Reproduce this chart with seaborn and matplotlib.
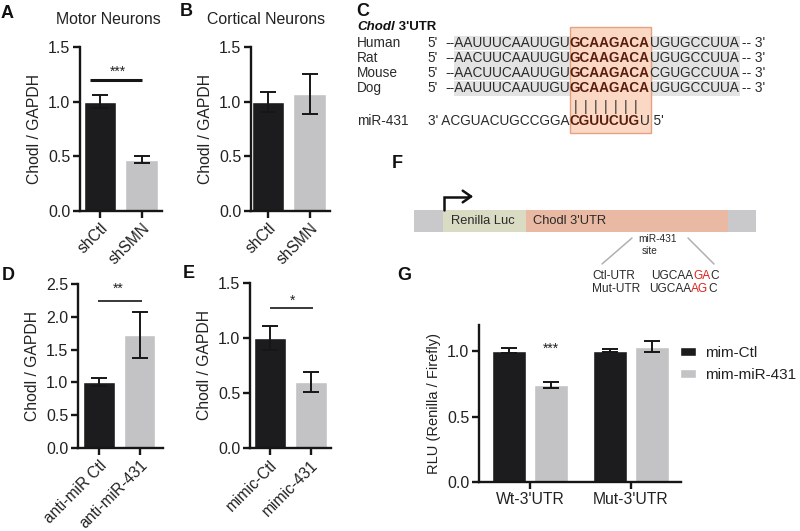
import numpy as np
import pandas as pd
import matplotlib
matplotlib.use("Agg")
import matplotlib.pyplot as plt
import seaborn as sns
from matplotlib.patches import Rectangle

sns.set_theme(style="ticks")
plt.rcParams['font.family'] = ['Liberation Sans', 'DejaVu Sans']

# ---------------- data ----------------
a_groups = ["shCtl", "shSMN"]
a_means = [1.00, 0.47]
a_sem = [0.06, 0.035]

b_groups = ["shCtl", "shSMN"]
b_means = [1.00, 1.07]
b_sem = [0.09, 0.18]

d_groups = ["anti-miR Ctl", "anti-miR-431"]
d_means = [1.00, 1.72]
d_sem = [0.06, 0.35]

e_groups = ["mimic-Ctl", "mimic-431"]
e_means = [1.00, 0.60]
e_sem = [0.11, 0.09]

g_constructs = ["Wt-3'UTR", "Wt-3'UTR", "Mut-3'UTR", "Mut-3'UTR"]
g_treatment = ["mim-Ctl", "mim-miR-431", "mim-Ctl", "mim-miR-431"]
g_means = [1.005, 0.74, 1.005, 1.035]
g_sem = [0.022, 0.025, 0.010, 0.042]

species = ["Human", "Rat", "Mouse", "Dog"]
seq_left = ["--AAUUUCAAUUGU", "--AACUUCAAUUGU", "--AACUUCAAUUGU", "--AAUUUCAAUUGU"]
seq_site = ["GCAAGACA"] * 4
seq_right = ["UGUGCCUUA -- 3'", "UGUGCCUUA -- 3'", "CGUGCCUUA -- 3'", "UGUGCCUUA -- 3'"]

BLACK = "#1c1b1d"
GRAY = "#c3c3c5"
INK = "#161616"
W, H = 800, 531

fig = plt.figure(figsize=(8, 5.31), dpi=100)
fig.patch.set_facecolor("white")


def ax_px(x0, y0, x1, y1):
    return fig.add_axes([x0 / W, 1 - y1 / H, (x1 - x0) / W, (y1 - y0) / H])


def style(ax, ylim, yticks):
    ax.set_ylim(*ylim)
    ax.set_yticks(yticks)
    ax.set_yticklabels([f"{t:.1f}" for t in yticks])
    for s in ["top", "right"]:
        ax.spines[s].set_visible(False)
    for s in ["left", "bottom"]:
        ax.spines[s].set_linewidth(1.7)
        ax.spines[s].set_color(INK)
    ax.tick_params(width=1.7, length=5, labelsize=11.5, color=INK, labelcolor="#222", pad=2)
    ax.set_facecolor("none")
    ax.set_xlabel("")


def bar_panel(ax, groups, means, sem, xlim, ylim, yticks):
    df = pd.DataFrame({"g": groups, "v": means})
    sns.barplot(data=df, x="g", y="v", hue="g", palette=[BLACK, GRAY], width=0.78,
                errorbar=None, legend=False, ax=ax, saturation=1)
    ax.errorbar(range(len(groups)), means, yerr=sem, fmt="none", ecolor=INK,
                elinewidth=1.4, capsize=6, capthick=1.4, zorder=3)
    ax.set_xlim(*xlim)
    style(ax, ylim, yticks)
    ax.set_xticks(range(len(groups)))
    ax.set_xticklabels(groups, rotation=45, ha="right", rotation_mode="anchor", fontsize=11.2)
    ax.set_ylabel("Chodl / GAPDH", fontsize=11.3, color="#222", labelpad=4)


def sig(ax, x0, x1, y, stars, sx, sy, lw=1.2):
    ax.plot([x0, x1], [y, y], color=INK, lw=lw, solid_capstyle="butt")
    ax.text(sx, sy, stars, ha="center", va="center", fontsize=10, color="#222")


# Panel A
axA = ax_px(80, 47, 162, 211)
bar_panel(axA, a_groups, a_means, a_sem, (-0.48, 1.49), (0, 1.5), [0, 0.5, 1.0, 1.5])
sig(axA, -0.24, 1.01, 1.2, "***", 0.43, 1.27, lw=2.2)

# Panel B
axB = ax_px(251, 47, 330, 211)
bar_panel(axB, b_groups, b_means, b_sem, (-0.41, 1.49), (0, 1.5), [0, 0.5, 1.0, 1.5])

# Panel D
axD = ax_px(78, 284, 163, 448)
bar_panel(axD, d_groups, d_means, d_sem, (-0.52, 1.58), (0, 2.5), [0, 0.5, 1.0, 1.5, 2.0, 2.5])
sig(axD, -0.02, 1.06, 2.245, "**", 0.47, 2.43)

# Panel E
axE = ax_px(250, 283, 331, 448)
bar_panel(axE, e_groups, e_means, e_sem, (-0.48, 1.5), (0, 1.5), [0, 0.5, 1.0, 1.5])
sig(axE, 0.01, 1.06, 1.27, "*", 0.57, 1.34)

# Panel G
axG = ax_px(479, 325, 681, 482)
dfg = pd.DataFrame({"c": g_constructs, "t": g_treatment, "v": g_means, "e": g_sem})
hue_levels = ["mim-Ctl", "mim-miR-431"]
cats = ["Wt-3'UTR", "Mut-3'UTR"]
sns.barplot(data=dfg, x="c", y="v", hue="t", hue_order=hue_levels, order=cats,
            palette=[BLACK, GRAY], width=0.84, gap=0.19, errorbar=None, ax=axG, saturation=1)
for cont, lvl in zip(axG.containers, hue_levels):
    for bar in cont:
        xc = bar.get_x() + bar.get_width() / 2
        cat = cats[int(round(xc))]
        row = dfg[(dfg.c == cat) & (dfg.t == lvl)].iloc[0]
        axG.errorbar([xc], [row.v], yerr=[row.e], fmt="none", ecolor=INK,
                     elinewidth=1.4, capsize=6, capthick=1.4, zorder=3)
axG.set_xlim(-0.505, 1.495)
style(axG, (0, 1.2), [0, 0.5, 1.0])
axG.set_xticks([0, 1])
axG.set_xticklabels(cats, fontsize=11.3)
axG.set_ylabel("RLU (Renilla / Firefly)", fontsize=10.5, color="#222", labelpad=4)
axG.text(0.21, 1.02, "***", ha="center", va="center", fontsize=10, color="#222")
leg = axG.legend(frameon=False, loc="upper left", bbox_to_anchor=(677 / W, 1 - 343 / H),
                 bbox_transform=fig.transFigure, fontsize=11, handlelength=1.05,
                 handleheight=0.55, handletextpad=0.6, labelspacing=0.5, borderpad=0.2,
                 borderaxespad=0)
for t in leg.get_texts():
    t.set_color("#222")

# ---------------- overlays for schematic text ----------------
ov = fig.add_axes([0, 0, 1, 1], zorder=-1)
ov.set_xlim(0, W)
ov.set_ylim(H, 0)
ov.axis("off")
ov.patch.set_alpha(0)

ov2 = fig.add_axes([0, 0, 1, 1], zorder=5)
ov2.set_xlim(0, W)
ov2.set_ylim(H, 0)
ov2.axis("off")
ov2.patch.set_alpha(0)

# panel labels
for lab, x, y in [("A", 1, 13), ("B", 180, 12), ("C", 356, 12), ("D", 2, 275),
                  ("E", 183, 273), ("F", 392, 163), ("G", 397, 275)]:
    ov2.text(x, y, lab, fontsize=13, fontweight="bold", ha="left", va="center", color="#111")

ov2.text(108, 20, "Motor Neurons", fontsize=11.4, ha="center", va="center", color="#222")
ov2.text(266, 20, "Cortical Neurons", fontsize=11.4, ha="center", va="center", color="#222")

renderer = fig.canvas.get_renderer()


def chain(ax, x, y, parts):
    """Draw text segments one after another starting at x (pixel coords)."""
    for txt, kw in parts:
        t = ax.text(x, y, txt, ha="left", va="center", **kw)
        bb = t.get_window_extent(renderer=renderer)
        x = x + bb.width * (W / fig.bbox.width)
    return x


SEQ = 9.8
norm = dict(fontsize=SEQ, color="#2a2a2a")
bold = dict(fontsize=SEQ, color="#5a1c0c", fontweight="bold")

# Panel C
ov.add_patch(Rectangle((570, 27), 81, 106, facecolor="#fbd8c3", edgecolor="#e2a283", lw=1.0, zorder=2))
row_y = [43, 58.3, 72.7, 88.3]
for i, yy in enumerate(row_y):
    ov.add_patch(Rectangle((454, yy - 7.2), 286, 14.4, facecolor="#e3e3e3", edgecolor="none", zorder=1))
chain(ov2, 357, 27, [("Chodl", dict(fontsize=9.5, fontweight="bold", style="italic", color="#111")),
                     (" 3'UTR", dict(fontsize=9.5, fontweight="bold", color="#111"))])
for sp, yy, l, s, r in zip(species, row_y, seq_left, seq_site, seq_right):
    ov2.text(357, yy, sp, fontsize=SEQ, ha="left", va="center", color="#2a2a2a")
    ov2.text(427, yy, "5'", fontsize=SEQ, ha="left", va="center", color="#2a2a2a")
    ov2.text(570, yy, l, ha="right", va="center", **norm)
    chain(ov2, 570, yy, [(s, bold), (r, norm)])
for xx in np.linspace(576, 636, 7):
    ov2.text(xx, 106.5, "|", ha="center", va="center", fontsize=SEQ, color="#333")
ov2.text(357, 120.7, "miR-431", fontsize=SEQ, ha="left", va="center", color="#2a2a2a")
ov2.text(570, 120.7, "3' ACGUACUGCCGGA", ha="right", va="center", **norm)
chain(ov2, 570, 120.7, [("CGUUCUG", bold), ("U 5'", norm)])

# Panel F
ov.add_patch(Rectangle((414, 210), 342, 22, facecolor="#c9c9cb", edgecolor="none", zorder=1))
ov.add_patch(Rectangle((443, 210), 83, 22, facecolor="#d9dcc2", edgecolor="none", zorder=2))
ov.add_patch(Rectangle((526, 210), 202, 22, facecolor="#e9b9a3", edgecolor="none", zorder=2))
ov2.text(451, 221.5, "Renilla Luc", fontsize=9.3, ha="left", va="center", color="#2a2a2a")
ov2.text(533, 221.5, "Chodl 3'UTR", fontsize=9.3, ha="left", va="center", color="#2a2a2a")
ov2.plot([444, 444, 468], [210, 196.5, 196.5], color="#111", lw=1.8, solid_joinstyle="miter")
ov2.annotate("", xy=(476, 196.5), xytext=(466, 196.5),
             arrowprops=dict(arrowstyle="->,head_length=0.5,head_width=0.35", color="#111", lw=1.8))
ov2.text(658, 239, "miR-431", fontsize=7.3, ha="center", va="center", color="#2a2a2a")
ov2.text(650, 251, "site", fontsize=7.3, ha="center", va="center", color="#2a2a2a")
ov2.plot([632, 602], [238, 264], color="#b0b0b0", lw=1.1)
ov2.plot([688, 714], [238, 264], color="#b0b0b0", lw=1.1)
small = dict(fontsize=8.6, color="#2a2a2a")
red = dict(fontsize=8.6, color="#e0221c")
ov2.text(592, 276, "Ctl-UTR", ha="left", va="center", **small)
ov2.text(592, 289, "Mut-UTR", ha="left", va="center", **small)
chain(ov2, 651, 276, [("UGCAA", small), ("GA", red), ("C", small)])
chain(ov2, 649, 289, [("UGCAA", small), ("AG", red), ("C", small)])

fig.savefig("out.png", dpi=100, facecolor="white")
